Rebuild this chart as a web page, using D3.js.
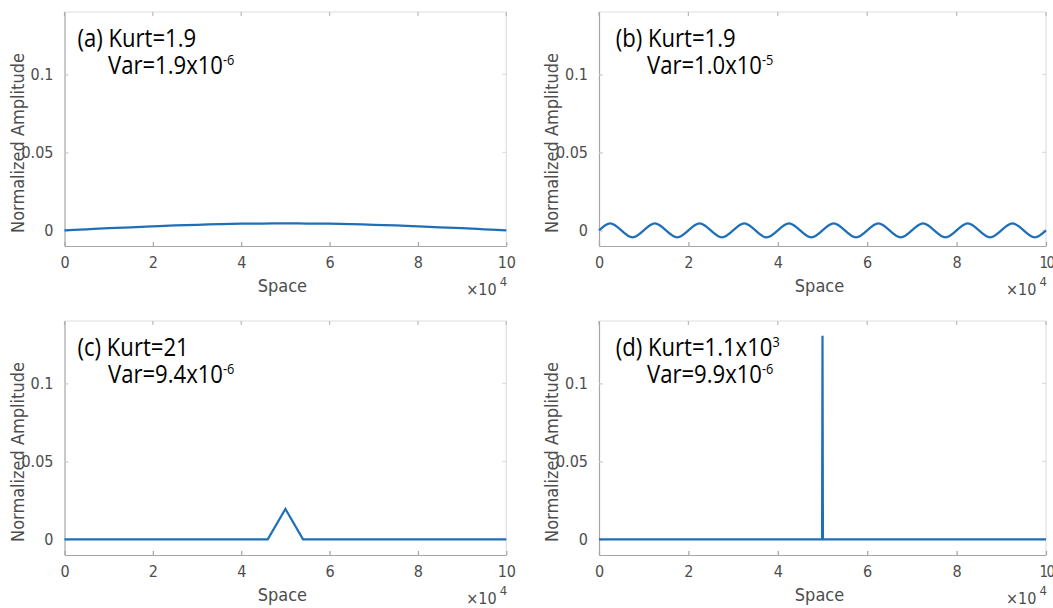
<!DOCTYPE html>
<html><head><meta charset="utf-8">
<script src="https://cdn.jsdelivr.net/npm/d3@7"></script>
<style>body{margin:0;background:#fff}</style>
</head><body>
<svg id="c" width="1053" height="608"></svg>
<script>
// ---- data ----
const xTicks = [0, 20000, 40000, 60000, 80000, 100000];
const xTickLabels = ["0", "2", "4", "6", "8", "10"];
const yTicks = [0, 0.05, 0.1];
const yTickLabels = ["0", "0.05", "0.1"];

const xA = [0,5000,10000,15000,20000,25000,30000,35000,40000,45000,50000,55000,60000,65000,70000,75000,80000,85000,90000,95000,100000];
const yA = [0,0.0007,0.0014,0.0020,0.0026,0.0032,0.0036,0.0040,0.0043,0.0044,0.0045,0.0044,0.0043,0.0040,0.0036,0.0032,0.0026,0.0020,0.0014,0.0007,0];

const xB = [0,2500,5000,7500,10000,12500,15000,17500,20000,22500,25000,27500,30000,32500,35000,37500,40000,42500,45000,47500,50000,52500,55000,57500,60000,62500,65000,67500,70000,72500,75000,77500,80000,82500,85000,87500,90000,92500,95000,97500,100000];
const yB = [0,0.0045,0,-0.0045,0,0.0045,0,-0.0045,0,0.0045,0,-0.0045,0,0.0045,0,-0.0045,0,0.0045,0,-0.0045,0,0.0045,0,-0.0045,0,0.0045,0,-0.0045,0,0.0045,0,-0.0045,0,0.0045,0,-0.0045,0,0.0045,0,-0.0045,0];

const xC = [0,46000,50000,54000,100000];
const yC = [0,0,0.0195,0,0];

const xD = [0,49900,50000,50100,100000];
const yD = [0,0,0.1305,0,0];

const kurtLabels = [["(a) Kurt=1.9",""],["(b) Kurt=1.9",""],["(c) Kurt=21",""],["(d) Kurt=1.1x10","3"]];
const varLabels = [["Var=1.9x10","-6"],["Var=1.0x10","-5"],["Var=9.4x10","-6"],["Var=9.9x10","-6"]];

// ---- layout ----
const panels = [
  {l:64.5, r:506.3, t:12,  b:246, x:xA, y:yA, curve:d3.curveNatural, ax:13, vx:43.5},
  {l:599,  r:1046,  t:12,  b:246, x:xB, y:yB, curve:d3.curveNatural, ax:16.7, vx:48},
  {l:64.5, r:506.3, t:321, b:555, x:xC, y:yC, curve:d3.curveLinear, ax:13, vx:43.5},
  {l:599,  r:1046,  t:321, b:555, x:xD, y:yD, curve:d3.curveLinear, ax:16.7, vx:48}
];
const FONT = "'DejaVu Sans Condensed','Liberation Sans Narrow','Roboto',sans-serif";
const ANN = "'Open Sans','Noto Sans',sans-serif";
const svg = d3.select("#c");

panels.forEach((p, i) => {
  const x = d3.scaleLinear().domain([0, 100000]).range([p.l, p.r]);
  const y = d3.scaleLinear().domain([-0.01, 0.14]).range([p.b, p.t]);
  const g = svg.append("g");

  // box: top/right light
  g.append("line").attr("x1",p.l).attr("x2",p.r).attr("y1",p.t).attr("y2",p.t).attr("stroke","#e0e0e0").attr("stroke-width",1.2);
  g.append("line").attr("x1",p.r).attr("x2",p.r).attr("y1",p.t).attr("y2",p.b).attr("stroke","#e0e0e0").attr("stroke-width",1.2);

  // ticks on top and right (inward)
  xTicks.forEach(t => {
    g.append("line").attr("x1",x(t)).attr("x2",x(t)).attr("y1",p.t).attr("y2",p.t+4).attr("stroke","#bbb").attr("stroke-width",1.2);
  });
  yTicks.forEach(t => {
    g.append("line").attr("x1",p.r).attr("x2",p.r-4).attr("y1",y(t)).attr("y2",y(t)).attr("stroke","#ddd").attr("stroke-width",1.2);
  });

  // bottom axis
  const xa = d3.axisBottom(x).tickValues(xTicks).tickFormat((d,k)=>xTickLabels[k]).tickSizeInner(-4).tickSizeOuter(0).tickPadding(11);
  const gx = g.append("g").attr("transform",`translate(0,${p.b})`).call(xa);
  gx.select(".domain").attr("stroke","#a6a6a6").attr("stroke-width",1.2);
  gx.selectAll(".tick line").attr("stroke","#a6a6a6").attr("stroke-width",1.2);
  gx.selectAll("text").attr("fill","#4d4d4d").style("font-family",FONT).style("font-size","16px");
  if (p.r > 1000) gx.selectAll(".tick:last-of-type text").style("letter-spacing","-1.5px").style("font-size","15px");

  // left axis
  const ya = d3.axisLeft(y).tickValues(yTicks).tickFormat((d,k)=>yTickLabels[k]).tickSizeInner(-4).tickSizeOuter(0).tickPadding(11);
  const gy = g.append("g").attr("transform",`translate(${p.l},0)`).call(ya);
  gy.select(".domain").attr("stroke","#a6a6a6").attr("stroke-width",1.2);
  gy.selectAll(".tick line").attr("stroke","#ccc").attr("stroke-width",1.2);
  gy.selectAll("text").attr("fill","#4d4d4d").style("font-family",FONT).style("font-size","16px");

  // y title
  g.append("text").attr("transform",`translate(${p.l-41},${p.t+131}) rotate(-90)`)
    .attr("text-anchor","middle").attr("fill","#4d4d4d").style("font-family",FONT).style("font-size","18px")
    .text("Normalized Amplitude");
  // x title
  g.append("text").attr("x",(p.l+p.r)/2-3).attr("y",p.b+46).attr("text-anchor","middle")
    .attr("fill","#4d4d4d").style("font-family",FONT).style("font-size","18px").text("Space");
  // exponent
  const ex = g.append("text").attr("x",p.r-40).attr("y",p.b+49).attr("fill","#4d4d4d").style("font-family",FONT).style("font-size","16px");
  ex.append("tspan").text("\u00d710");
  ex.append("tspan").attr("dx",3).attr("dy",-9).style("font-size","13px").text("4");

  // line
  const pts = p.x.map((v,k)=>[v,p.y[k]]);
  g.append("path").datum(pts)
    .attr("d", d3.line().x(d=>x(d[0])).y(d=>y(d[1])).curve(p.curve))
    .attr("fill","none").attr("stroke","#1f6fb8").attr("stroke-width",2.2);

  // annotations
  const a1 = g.append("text").attr("transform",`translate(${p.l+p.ax},${p.t+35}) scale(0.85,1)`)
    .attr("fill","#000").style("font-family",ANN).style("font-size","26px").style("font-weight","500");
  a1.append("tspan").text(kurtLabels[i][0]);
  if (kurtLabels[i][1]) a1.append("tspan").attr("dy",-9).style("font-size","15px").text(kurtLabels[i][1]);
  const a2 = g.append("text").attr("transform",`translate(${p.l+p.vx},${p.t+62}) scale(0.85,1)`)
    .attr("fill","#000").style("font-family",ANN).style("font-size","26px").style("font-weight","500");
  a2.append("tspan").text(varLabels[i][0]);
  a2.append("tspan").attr("dy",-9).style("font-size","15px").text(varLabels[i][1]);
});
</script>
</body></html>
